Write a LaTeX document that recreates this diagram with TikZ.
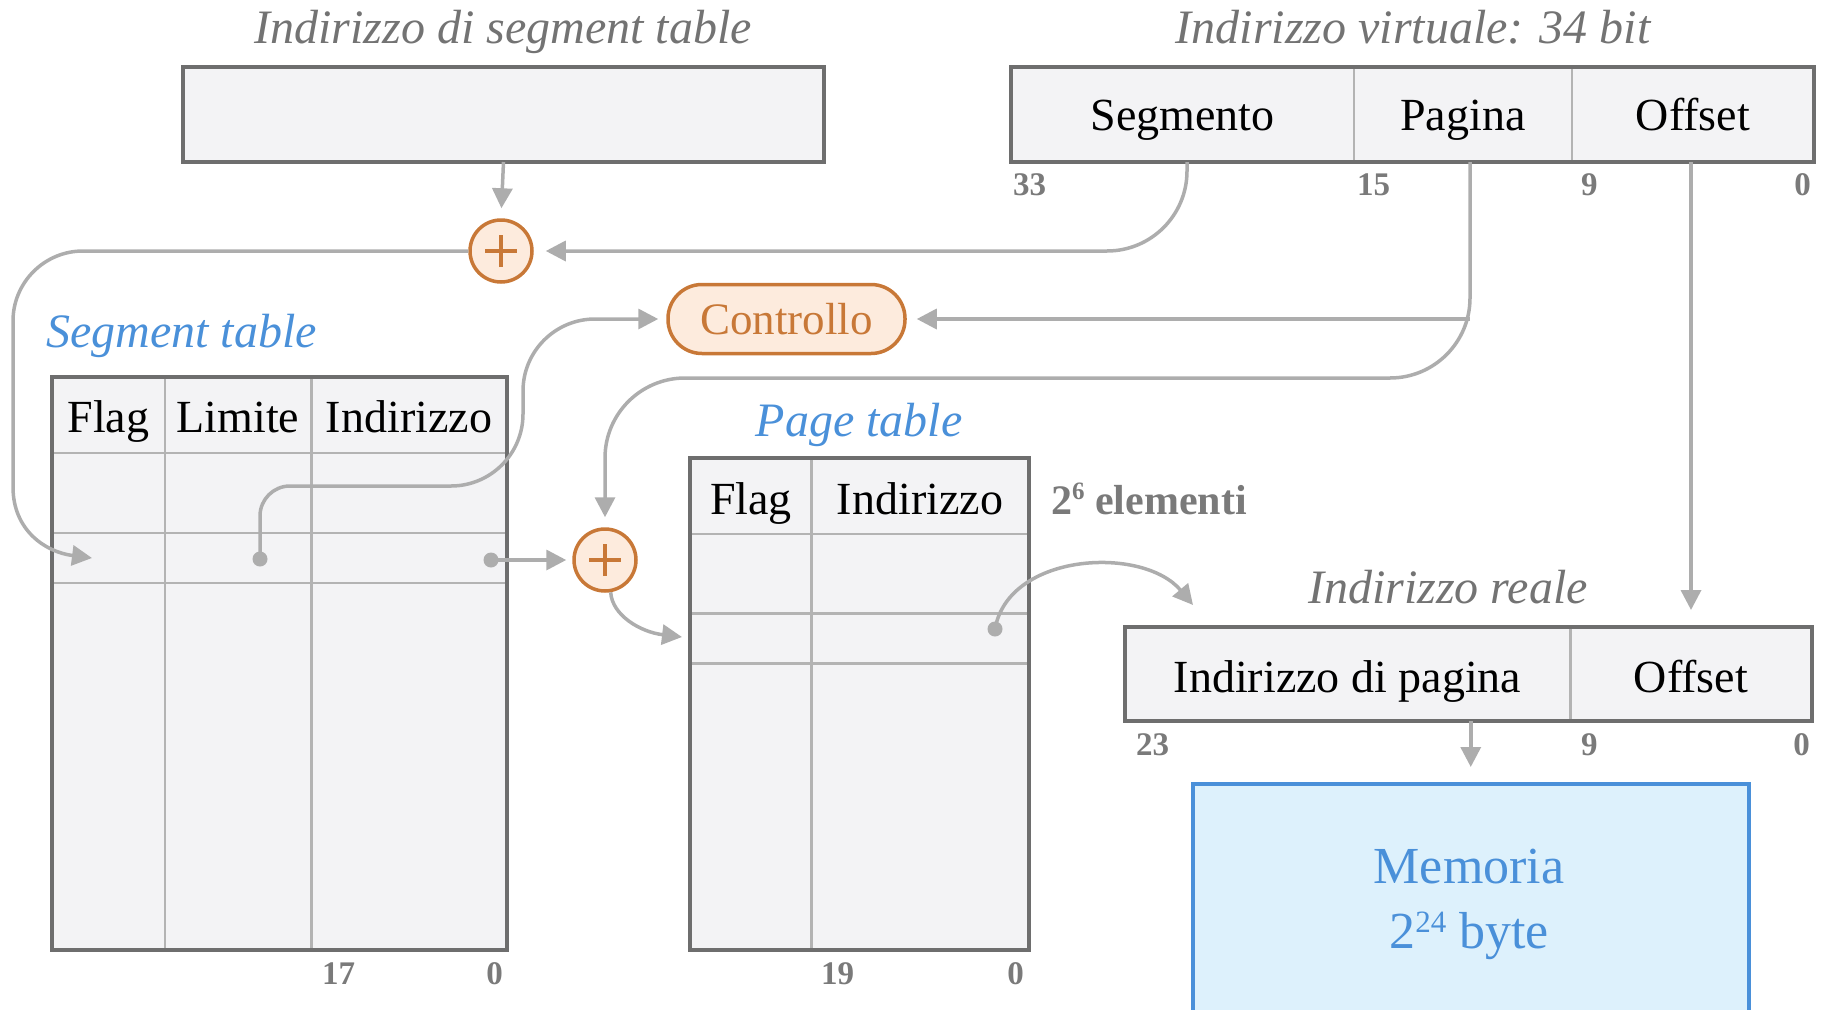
\documentclass[tikz,border=0pt]{standalone}
\usepackage{fontspec}
\setmainfont{Liberation Serif}
\usetikzlibrary{arrows.meta}
\definecolor{titlegray}{HTML}{737373}
\definecolor{numgray}{HTML}{7A7A7A}
\definecolor{boxline}{HTML}{6E6E6E}
\definecolor{boxfill}{HTML}{F3F3F5}
\definecolor{gridline}{HTML}{B3B3B3}
\definecolor{conncol}{HTML}{ADADAD}
\definecolor{orng}{HTML}{C87837}
\definecolor{peach}{HTML}{FDEBDD}
\definecolor{bluec}{HTML}{4A90D9}
\definecolor{memfill}{HTML}{DDF1FC}
\newcommand\fsz[1]{\fontsize{#1}{#1}\selectfont}
\newcommand\mysup[3]{\raisebox{#1}{\fsz{#2}#3}}
\tikzset{
  box/.style={draw=boxline, fill=boxfill, line width=3.5pt, inner sep=0pt, outer sep=0pt, anchor=north west},
  gridl/.style={draw=gridline, line width=2.5pt},
  conn/.style={draw=conncol, line width=3.5pt},
  arr/.style={conn, -{Triangle[length=20pt,width=20pt]}},
  dotn/.style={circle, fill=conncol, inner sep=0pt, minimum size=15pt},
  plusn/.style={circle, draw=orng, fill=peach, line width=3.5pt, minimum size=62pt, inner sep=0pt,
    path picture={\draw[orng, line width=4pt]
      ([xshift=-16pt]path picture bounding box.center) -- ([xshift=16pt]path picture bounding box.center)
      ([yshift=-16pt]path picture bounding box.center) -- ([yshift=16pt]path picture bounding box.center);}},
  ttl/.style={text=titlegray, font=\fsz{48}\itshape, inner sep=0pt, anchor=base},
  cell/.style={text=black, font=\fsz{46}, inner sep=0pt, anchor=base},
  num/.style={text=numgray, font=\fsz{33}\bfseries, inner sep=0pt, anchor=base},
  bluet/.style={text=bluec, font=\fsz{48}\itshape, inner sep=0pt, anchor=base},
  memt/.style={text=bluec, font=\fsz{52}, inner sep=0pt, anchor=base},
}
\begin{document}
\begin{tikzpicture}[x=1pt,y=-1pt]
\useasboundingbox (0,0) rectangle (1825,1009);
\clip (0,0) rectangle (1825,1009);

% titles
\node[ttl] (t1) at (503,43) {Indirizzo di segment table};
\node[ttl] (t2) at (1413,43) {Indirizzo virtuale: 34 bit};

% segment table register
\node[box, minimum width=641pt, minimum height=95pt] (segreg) at (183,67) {};

% virtual address
\node[box, minimum width=803pt, minimum height=95pt] (vbox) at (1011,67) {};
\draw[gridl] (1354,69) -- (1354,160);
\draw[gridl] (1572,69) -- (1572,160);
\node[cell] (vseg) at (1182.5,130) {Segmento};
\node[cell] (vpag) at (1463,130) {Pagina};
\node[cell] (voff) at (1693,130) {Offset};
\node[num, anchor=base west] (n33) at (1013,195) {33};
\node[num, anchor=base west] (n15) at (1357,195) {15};
\node[num, anchor=base west] (n9a) at (1581,195) {9};
\node[num, anchor=base east] (n0a) at (1811,195) {0};

% plus 1
\node[plusn] (p1) at (501,251) {};

% Controllo
\node[draw=orng, fill=peach, line width=3.5pt, rounded corners=34pt, minimum width=237pt,
      minimum height=69pt, inner sep=0pt, text=orng, font=\fsz{45}] (ctrl) at (786.5,319) {Controllo};

% Segment table
\node[bluet, anchor=base west] (sttl) at (46,347) {Segment table};
\node[box, minimum width=455pt, minimum height=573pt] (segtab) at (52,377) {};
\draw[gridl] (54,453) -- (505,453);
\draw[gridl] (54,533) -- (505,533);
\draw[gridl] (54,583) -- (505,583);
\draw[gridl] (165,379) -- (165,948);
\draw[gridl] (311.5,379) -- (311.5,948);
\node[cell] (sflag) at (108.5,432) {Flag};
\node[cell] (slim) at (238,432) {Limite};
\node[cell] (sind) at (409,432) {Indirizzo};
\node[num, anchor=base west] (n17) at (322,984) {17};
\node[num, anchor=base east] (n0b) at (503,984) {0};
\node[dotn] (ldot) at (260,559) {};
\node[dotn] (rdot) at (491,560) {};
\coordinate (segin) at (92,558);

% plus 2
\node[plusn] (p2) at (605,560) {};

% Page table
\node[bluet] (pttl) at (859,436) {Page table};
\node[box, minimum width=339pt, minimum height=492pt] (pagtab) at (690,458) {};
\draw[gridl] (692,534) -- (1027,534);
\draw[gridl] (692,613.5) -- (1027,613.5);
\draw[gridl] (692,663.5) -- (1027,663.5);
\draw[gridl] (811.6,460) -- (811.6,948);
\node[cell] (pflag) at (751,514) {Flag};
\node[cell] (pind) at (920,514) {Indirizzo};
\node[num, font=\fsz{42}\bfseries, anchor=base west] (elem) at (1051,514) {2\mysup{15pt}{25}{6} elementi};
\node[num, anchor=base west] (n19) at (821,984) {19};
\node[num, anchor=base east] (n0c) at (1024,984) {0};
\node[dotn] (pdot) at (995,629) {};
\coordinate (ptin) at (682,637);

% Real address
\node[ttl] (t3) at (1448,603) {Indirizzo reale};
\node[box, minimum width=687pt, minimum height=94pt] (realbox) at (1125,627) {};
\draw[gridl] (1570.5,629) -- (1570.5,719);
\node[cell] (rpag) at (1347.5,692) {Indirizzo di pagina};
\node[cell] (roff) at (1691,692) {Offset};
\node[num, anchor=base west] (n23) at (1136,755) {23};
\node[num, anchor=base west] (n9b) at (1581,755) {9};
\node[num, anchor=base east] (n0d) at (1810,755) {0};
\coordinate (realin) at (1193,605);

% Memory
\node[draw=bluec, fill=memfill, line width=3.5pt, inner sep=0pt, anchor=north west,
      minimum width=556pt, minimum height=260pt] (mem) at (1191,782) {};
\node[memt] (memt1) at (1469,883) {Memoria};
\node[memt] (memt2) at (1469,948) {2\mysup{16pt}{31}{24} byte};

% connectors
\coordinate (segsrc) at (1187,162);
\coordinate (pagsrc) at (1470,162);
\coordinate (offsrc) at (1691,162);

\draw[arr, shorten >=10pt] (segreg.south) -- (p1.north);
\draw[arr, rounded corners=80pt, shorten >=12pt] (segsrc) |- (p1.east);
\draw[arr] (p1.west) -- (83,251) .. controls (44.4,251) and (13,282.4) .. (13,321)
   -- (13,487) .. controls (13,530) and (45,552) .. (segin);
\draw[arr, rounded corners=80pt, shorten >=10pt] (pagsrc) |- (p2.north |- 0,378) -- (p2.north);
\draw[arr, shorten >=10pt] (pagsrc |- ctrl.east) -- (ctrl.east);
\draw[arr, shorten >=8pt] (ldot.center) [rounded corners=30pt] -- (ldot.center |- 0,486) -- (400,486)
   [rounded corners=72pt] -- (523,486) -- (ctrl.west -| 523,0) -- (ctrl.west);
\draw[arr, shorten >=6pt] (rdot.center) -- (p2.west);
\draw[arr] (p2.-80) .. controls (612,615) and (640,632) .. (ptin);
\draw[arr] (pdot.center) to[out=80,in=130] (realin);
\draw[arr, shorten >=17pt] (offsrc) -- (offsrc |- realbox.north);
\draw[arr, shorten >=15pt] (mem.north |- realbox.south) -- (mem.north);
\end{tikzpicture}
\end{document}
